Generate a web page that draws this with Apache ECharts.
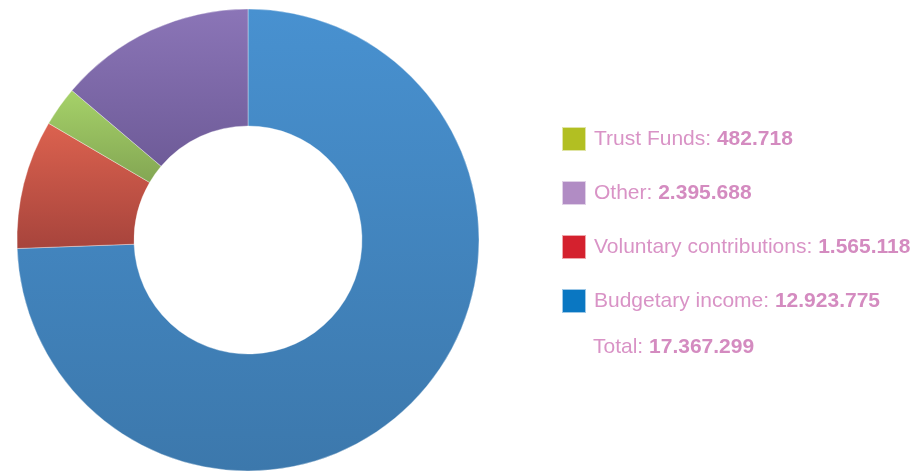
<!DOCTYPE html>
<html>
<head>
<meta charset="utf-8">
<script src="https://cdn.jsdelivr.net/npm/echarts@6/dist/echarts.min.js"></script>
<style>
    html, body { margin: 0; padding: 0; background: #fff; }
    #pie_donut { width: 912px; height: 472px; }
</style>
</head>
<body>
<div id="pie_donut"></div>
<script>
// Data
var categories = ['Budgetary income', 'Voluntary contributions', 'Trust Funds', 'Other'];
var values = [12923775, 1565118, 482718, 2395688];
var legendOrder = ['Trust Funds', 'Other', 'Voluntary contributions', 'Budgetary income'];

// Slice gradients (top, bottom) and legend swatches
var sliceColors = [
    ['#4891d0', '#3c78ac'],
    ['#dc624f', '#a7443c'],
    ['#a6d269', '#83a653'],
    ['#8b75b7', '#6e5b98']
];
var swatchColors = ['#0a77c2', '#d4212e', '#b2bf22', '#b18cc4'];

var fmt = function (v) {
    return String(v).replace(/\B(?=(\d{3})+(?!\d))/g, '.');
};

var total = values.reduce(function (s, v) { return s + v; }, 0);

var pie_donut_element = document.getElementById('pie_donut');
var pie_donut = echarts.init(pie_donut_element);

var textColor = '#d993c6';
var boldColor = '#d48bc0';
var fontFamily = '"Liberation Sans", Arial, Helvetica, sans-serif';

pie_donut.setOption({
    animation: false,

    // Legend
    legend: {
        orient: 'vertical',
        left: 561,
        top: 126,
        padding: 0,
        itemWidth: 24,
        itemHeight: 24,
        itemGap: 28,
        icon: 'rect',
        data: legendOrder.map(function (name) {
            var i = categories.indexOf(name);
            return { name: name, itemStyle: { color: swatchColors[i] } };
        }),
        formatter: function (name) {
            var i = categories.indexOf(name);
            return '{n|' + name + ': }{v|' + fmt(values[i]) + '}';
        },
        textStyle: {
            rich: {
                n: { fontSize: 21, lineHeight: 24, color: textColor, fontFamily: fontFamily, padding: [0, 0, 0, 3] },
                v: { fontSize: 21, lineHeight: 24, color: boldColor, fontWeight: 'bold', fontFamily: fontFamily }
            }
        }
    },

    // Total line
    graphic: [{
        type: 'text',
        left: 593,
        top: 337,
        style: {
            text: '{n|Total: }{v|' + fmt(total) + '}',
            rich: {
                n: { fontSize: 21, lineHeight: 24, fill: textColor, fontFamily: fontFamily },
                v: { fontSize: 21, lineHeight: 24, fill: boldColor, fontWeight: 'bold', fontFamily: fontFamily }
            }
        }
    }],

    // Series
    series: [{
        name: 'income',
        type: 'pie',
        radius: [114, 231],
        center: [248, 240],
        startAngle: 90,
        clockwise: true,
        label: { show: false },
        labelLine: { show: false },
        emphasis: { disabled: true },
        itemStyle: {
            borderWidth: 0.6,
            borderColor: 'rgba(255,255,255,0.6)'
        },
        data: categories.map(function (name, i) {
            return {
                name: name,
                value: values[i],
                itemStyle: {
                    color: new echarts.graphic.LinearGradient(0, 0, 0, 1, [
                        { offset: 0, color: sliceColors[i][0] },
                        { offset: 1, color: sliceColors[i][1] }
                    ])
                }
            };
        })
    }]
});
</script>
</body>
</html>
